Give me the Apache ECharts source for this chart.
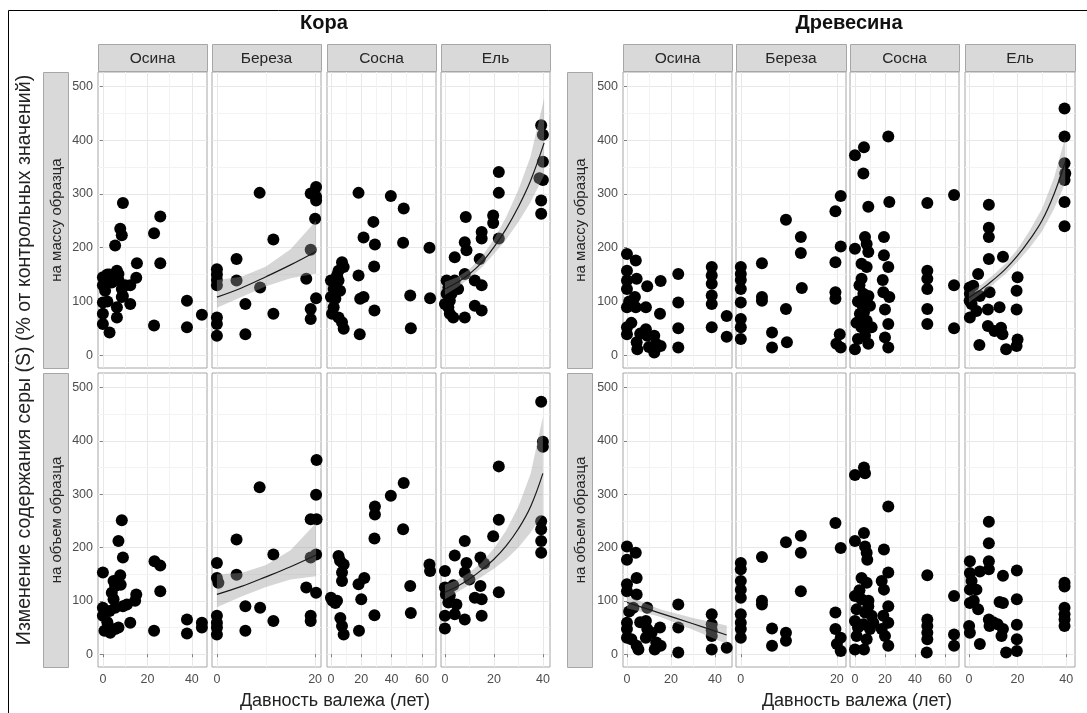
<!DOCTYPE html>
<html>
<head>
<meta charset="utf-8">
<script src="https://cdn.jsdelivr.net/npm/echarts@6/dist/echarts.min.js"></script>
<style>
html,body{margin:0;padding:0;background:#fff}
#chart{width:1087px;height:713px}
</style>
</head>
<body>
<div id="chart"></div>
<script>
// Facet labels and tick values
const materials = ['Кора', 'Древесина'];
const species = ['Осина', 'Береза', 'Сосна', 'Ель'];
const basisLabels = ['на массу образца', 'на объем образца'];
const yTicks = [0, 100, 200, 300, 400, 500];
const yMinorTicks = [50, 150, 250, 350, 450];
const xTicksBySpecies = [[0, 20, 40], [0, 20], [0, 20, 40, 60], [0, 20, 40]];
const xMinorBySpecies = [[10, 30], [10], [10, 30, 50], [10, 30]];
const xRangeBark = [[-2.2, 46.8], [-1, 21.2], [-2.6, 69.3], [-1.6, 42.9]];
const xRangeWood = [[-1.8, 47.7], [-1, 21.9], [-3.3, 69.3], [-1.6, 43.6]];
const yRange = [-24, 527];
const xTitle = 'Давность валежа (лет)';
const yTitle = 'Изменение содержания серы (S) (% от контрольных значений)';

// Bark, per sample mass: [years, % of control]
const barkMassAspen = [[0,145],[0,98],[0,77],[0,58],[1,140],[2,150],[3,42],[1,120],[0,130],[2,100],[4,135],[3,150],
  [5.5,204],[7,151],[7.8,235],[8.5,223],[9,283],[6.3,157],[5.5,145],[6.3,70],[6.3,89],[8.5,123],[10,130],[8.5,108],
  [12.3,95],[12.3,130],[15.3,171],[15,144],[23,227],[25.8,258],[25.8,171],[23,55],[37.8,101],[37.8,52],[44.5,75],[7,140],[9,110]];
const barkMassBirch = [[0,160],[0,150],[0,140],[0,130],[0,70],[0,58],[0,36],[4,179],[4,139],[5.8,95],[5.8,39],[8.7,302],
  [8.8,126],[11.5,215],[11.5,77],[18.2,142],[19.1,301],[19.1,86],[19.1,67],[19.1,196],[20,254],[20.2,313],[20.2,295],[20.2,106],[20.2,288]];
const barkMassPine = [[0,139],[0,108],[1.8,123],[0.7,77],[4,148],[5,157],[7.3,173],[8.4,164],[5,139],[6,120],[5,70],[7.3,61],
  [8.4,49],[1.8,89],[2.9,105],[18.2,302],[18.2,148],[19.3,105],[21.5,108],[19,39],[21.5,219],[28,248],[29,206],[28.5,165],
  [28.7,83],[39.5,296],[48,273],[47.6,209],[52.3,111],[52.7,50],[65,200],[65.4,106]];
const barkMassSpruce = [[0.7,139],[1.4,126],[0.7,114],[2,101],[1.4,89],[2,77],[3.4,70],[0,95],[2.7,114],[4,139],[5.4,123],
  [4,182],[8.1,70],[8.1,151],[8.5,257],[8.1,210],[8.8,195],[12.2,92],[15,83],[12.2,139],[14.2,179],[15,229],[15,217],[15,130],
  [19.7,260],[19.7,246],[22,341],[22,302],[22,217],[39.3,428],[40,410],[40,360],[40,326],[39.3,288],[39.3,263],[38.6,329]];

// Bark, per sample volume
const barkVolAspen = [[0,153],[0,87],[0,72],[0.7,44],[3.3,40],[4.8,137],[5.5,128],[4,115],[4.8,103],[5.5,87],[7,212],[8.5,251],
  [9,181],[7.8,148],[9,90],[10.8,93],[5.5,47],[7,50],[12.3,59],[15,112],[14.5,100],[23.2,174],[25.8,166],[25.8,118],[23,44],
  [37.8,65],[37.8,39],[44.5,59],[44.5,50],[3,81],[2,60],[8,130]];
const barkVolBirch = [[0,171],[0,143],[0.3,134],[0,72],[0,59],[0,50],[0,37],[4,215],[4,149],[5.8,90],[5.8,44],[8.7,313],
  [8.8,87],[11.5,187],[11.5,62],[18.2,125],[19.1,72],[19.1,62],[19.1,253],[20.3,253],[20.3,364],[20.2,299],[20.2,187],[19.1,181],[20.2,115]];
const barkVolPine = [[0,106],[2.9,96],[5,184],[8.4,168],[7.3,153],[7.3,137],[6.2,68],[7.3,53],[8.4,37],[18.2,131],[22,143],
  [20,103],[18.5,44],[29,277],[29,262],[28.7,217],[28.7,73],[39.5,297],[48,321],[47.6,234],[52.3,128],[52.7,77],[65,168],
  [65.4,156],[1,100],[4,100],[6,175]];
const barkVolSpruce = [[0,156],[0,125],[0.4,112],[1.4,97],[0,72],[0,48],[4,185],[3.4,129],[4.7,93],[4,75],[8.1,212],[8.8,171],
  [8.1,153],[8.1,65],[12.2,106],[14.5,181],[14.5,128],[15,103],[15,72],[19.7,221],[22,352],[22,252],[22,116],[39.3,473],
  [40,398],[40,389],[39.3,249],[39.3,234],[39.3,212],[39.3,190],[2,110],[10,140],[16,170]];

// Wood, per sample mass
const woodMassAspen = [[0,188],[0,157],[0,139],[0,123],[0,89],[0,52],[0,39],[4,176],[4.4,142],[3.6,108],[4,89],[4.4,24],
  [4.7,11],[9.2,128],[8.6,89],[8.6,48],[9.2,36],[12.4,36],[13.2,21],[12.4,5],[15.3,138],[15,77],[15.3,17],[23.3,151],[23.3,98],
  [23.3,50],[23.3,14],[38.5,164],[38.5,148],[38.5,133],[38.5,111],[38.5,95],[38.5,52],[45.3,73],[45.3,34],[1,100],[2,60],[6,40],[10,15]];
const woodMassBirch = [[0,164],[0,151],[0,123],[0,98],[0,67],[0,52],[0,30],[4.4,171],[4.4,108],[4.4,101],[6.5,42],[6.5,14],
  [9.4,252],[9.4,86],[9.6,24],[12.5,220],[12.5,190],[12.7,125],[19.7,268],[20.8,296],[20.8,202],[19.7,173],[19.7,117],
  [19.7,105],[20.6,39],[19.9,21],[20.8,14],[0,140]];
const woodMassPine = [[0,372],[6,387],[5.6,338],[8.9,276],[0,198],[6.7,220],[7.8,207],[8.9,192],[4.4,170],[7.8,164],[4.4,142],
  [5.6,114],[4.4,95],[10,92],[3.3,77],[7.8,64],[4.4,52],[11.1,52],[6.7,36],[8.9,21],[0,11],[2,100],[1,60],[3,130],[9,110],
  [22.2,407],[22.9,285],[19.3,220],[19.3,186],[22.2,164],[22.9,108],[18.5,140],[18.9,117],[22.2,58],[20,33],[22.2,14],
  [48.2,283],[48.2,157],[48.2,142],[48.2,123],[48.2,86],[48.2,58],[66,298],[66,130],[66,50],[2,30],[6,80],[20,85]];
const woodMassSpruce = [[39.3,459],[39.3,407],[39.3,357],[39.6,338],[39.3,326],[39.3,285],[39.3,240],[8.2,280],[8.2,237],
  [8.2,220],[8.2,179],[14,183],[3.8,151],[1.8,129],[0.4,114],[1.1,95],[3.1,82],[0.4,70],[4.5,110],[8.5,117],[7.8,85],[12.6,89],
  [7.8,54],[10.5,45],[13.2,51],[13.8,39],[20,145],[19.6,120],[19.6,85],[20,29],[19.6,17],[15.3,11],[4.3,19],[0.3,126],[0.3,101]];

// Wood, per sample volume
const woodVolAspen = [[0,202],[0,177],[4,190],[0,131],[0,118],[4.4,143],[0,59],[0,47],[0,31],[2,28],[4.4,112],[4.4,16],[5.2,9],
  [9.2,87],[8.6,62],[9.2,47],[8.6,31],[12.6,9],[13.3,22],[15,50],[15.3,16],[11.2,40],[23.3,93],[23.3,50],[23.3,3],[38.5,75],
  [38.5,56],[38.5,34],[38.5,9],[45.3,12],[2.9,87],[38.5,45],[1,80],[6,60]];
const woodVolBirch = [[0,171],[0,159],[0,137],[0,121],[0,106],[0,75],[0,59],[0,47],[0,31],[4.4,182],[4.4,100],[4.4,93],
  [6.5,48],[6.5,16],[9.4,210],[9.4,40],[9.4,25],[12.5,222],[12.5,190],[12.5,118],[19.7,246],[20.8,199],[19.7,78],[19.7,47],
  [20.8,31],[20,19],[20.8,6]];
const woodVolPine = [[0,336],[6,350],[6.7,339],[0,212],[6,227],[6.7,202],[7.8,190],[8.2,177],[4.4,143],[7.8,134],[0,109],
  [4.4,103],[8.9,90],[1.1,84],[6.7,78],[11.1,72],[0,62],[5.6,56],[10,47],[1.1,34],[7.8,28],[0,9],[6,9],[12.2,59],[22.2,277],
  [19.3,196],[22.2,153],[17.8,137],[19.3,121],[22.2,90],[18.9,72],[22.2,59],[20,34],[22.2,16],[17.8,47],[48.2,148],[48.2,65],
  [48.2,53],[48.2,40],[48.2,28],[47.8,3],[66,109],[66,37],[66,16],[3,120],[9,100],[2,50]];
const woodVolSpruce = [[8.2,248],[8.2,208],[8.2,174],[8.2,159],[0.4,174],[0.4,152],[1.1,137],[4.5,155],[0.4,121],[3.1,121],
  [0.4,96],[3.8,84],[0.1,53],[0.4,40],[4.5,19],[14,147],[12.6,98],[14,96],[8.2,65],[8.5,53],[11.8,56],[14,47],[13.4,34],
  [15.3,3],[19.7,157],[19.7,103],[19.7,55],[19.7,28],[19.7,6],[39.3,134],[39.3,127],[39.3,87],[39.3,75],[39.3,65],[39.3,53],[10,60],[2,100]];

// Fitted trends with confidence bands: x, fitted value, lower, upper
const barkMassBirchFit = { x: [0, 5, 10, 15, 20.2], y: [108, 125, 146, 168, 193], lo: [88, 108, 128, 143, 152], hi: [140, 146, 165, 197, 250] };
const barkMassSpruceFit = { x: [0, 5, 10, 15, 20, 25, 30, 35, 40.5], y: [123, 135, 151, 172, 201, 235, 276, 325, 395],
  lo: [112, 126, 143, 163, 188, 215, 248, 285, 335], hi: [136, 145, 160, 183, 215, 257, 308, 370, 478] };
const barkVolBirchFit = { x: [0, 5, 10, 15, 20.2], y: [112, 127, 145, 164, 186], lo: [88, 108, 126, 140, 146], hi: [150, 152, 167, 195, 246] };
const barkVolSpruceFit = { x: [0, 5, 10, 15, 20, 25, 30, 35, 40], y: [116, 127, 141, 158, 178, 203, 235, 277, 339],
  lo: [103, 116, 130, 145, 160, 178, 200, 228, 262], hi: [130, 139, 153, 172, 198, 232, 277, 338, 445] };
const woodMassSpruceFit = { x: [0, 5, 10, 15, 20, 25, 30, 35, 39.6], y: [107, 122, 140, 160, 185, 215, 250, 300, 360],
  lo: [98, 114, 132, 151, 174, 200, 230, 272, 320], hi: [117, 131, 149, 170, 197, 232, 272, 330, 405] };
const woodVolAspenFit = { x: [0, 15, 30, 45.3], y: [97, 77, 57, 36], lo: [86, 70, 46, 19], hi: [109, 84, 68, 54] };

const pointSets = [
  [[barkMassAspen, barkMassBirch, barkMassPine, barkMassSpruce], [barkVolAspen, barkVolBirch, barkVolPine, barkVolSpruce]],
  [[woodMassAspen, woodMassBirch, woodMassPine, woodMassSpruce], [woodVolAspen, woodVolBirch, woodVolPine, woodVolSpruce]]
];
const fitSets = [
  { m: 0, r: 0, c: 1, fit: barkMassBirchFit },
  { m: 0, r: 0, c: 3, fit: barkMassSpruceFit },
  { m: 0, r: 1, c: 1, fit: barkVolBirchFit },
  { m: 0, r: 1, c: 3, fit: barkVolSpruceFit },
  { m: 1, r: 0, c: 3, fit: woodMassSpruceFit },
  { m: 1, r: 1, c: 0, fit: woodVolAspenFit }
];

// ---- layout ----
const FONT = "'Liberation Sans', Arial, sans-serif";
const panelLeft = [[98, 212, 327, 441], [623, 736, 850, 965]];
const panelWidth = [[109, 109, 109, 109], [109, 110, 109, 110]];
const panelTop = [72, 373];
const panelHeight = [296, 294];
const rowStripLeft = [43, 567];
const stripWidth = 25;
const colStripTop = 44;
const colStripHeight = 27;
const splitNumbers = [[5, 2, 7, 4], [5, 2, 7, 4]];
const xRanges = [xRangeBark, xRangeWood];

const grids = [], xAxes = [], yAxes = [], series = [];
const gridIndex = {};

materials.forEach((mat, m) => {
  for (let r = 0; r < 2; r++) {
    for (let c = 0; c < 4; c++) {
      const gi = grids.length;
      gridIndex[m + '-' + r + '-' + c] = gi;
      grids.push({
        left: panelLeft[m][c], top: panelTop[r], width: panelWidth[m][c], height: panelHeight[r],
        show: true, backgroundColor: '#ffffff', borderColor: '#a6a6a6', borderWidth: 1
      });
      const ticksX = xTicksBySpecies[c];
      xAxes.push({
        gridIndex: gi, type: 'value', min: xRanges[m][c][0], max: xRanges[m][c][1],
        splitNumber: splitNumbers[m][c],
        axisLine: { show: false },
        axisTick: { show: r === 1, customValues: ticksX, length: 3, lineStyle: { color: '#7f7f7f' } },
        axisLabel: {
          show: r === 1, customValues: ticksX, color: '#4d4d4d', fontSize: 12.5, fontFamily: FONT, margin: 6,
          formatter: v => (ticksX.indexOf(Math.round(v * 1000) / 1000) >= 0 ? String(v) : '')
        },
        splitLine: { show: true, lineStyle: { color: '#e8e8e8', width: 1 } }
      });
      yAxes.push({
        gridIndex: gi, type: 'value', min: yRange[0], max: yRange[1], splitNumber: 11,
        axisLine: { show: false },
        axisTick: { show: c === 0, customValues: yTicks, length: 3, lineStyle: { color: '#7f7f7f' } },
        axisLabel: {
          show: c === 0, customValues: yTicks, color: '#4d4d4d', fontSize: 12.5, fontFamily: FONT, margin: 5,
          formatter: v => (yTicks.indexOf(Math.round(v * 1000) / 1000) >= 0 ? String(v) : '')
        },
        splitLine: { show: true, lineStyle: { color: '#e8e8e8', width: 1 } }
      });
      // minor grid lines, kept beneath the points
      series.push({
        type: 'line', xAxisIndex: gi, yAxisIndex: gi, data: [], silent: true, z: 1,
        markLine: {
          z: 1, silent: true, symbol: ['none', 'none'], label: { show: false }, animation: false,
          emphasis: { disabled: true },
          lineStyle: { color: '#f3f3f3', width: 1, type: 'solid' },
          data: xMinorBySpecies[c].map(v => ({ xAxis: v })).concat(yMinorTicks.map(v => ({ yAxis: v })))
        }
      });
      series.push({
        type: 'scatter', xAxisIndex: gi, yAxisIndex: gi, data: pointSets[m][r][c],
        symbol: 'circle', symbolSize: 12, itemStyle: { color: '#000000', opacity: 1 },
        silent: true, z: 10, clip: true
      });
    }
  }
});

// confidence bands and fitted curves
fitSets.forEach(f => {
  const gi = gridIndex[f.m + '-' + f.r + '-' + f.c];
  const d = f.fit;
  series.push({
    type: 'custom', xAxisIndex: gi, yAxisIndex: gi, silent: true, z: 11,
    data: d.x.map((x, i) => [x, d.lo[i], d.hi[i]]),
    encode: { x: 0, y: [1, 2] },
    renderItem: (params, api) => {
      if (params.dataIndex !== 0) return null;
      const upper = d.x.map((x, i) => api.coord([x, d.hi[i]]));
      const lower = d.x.map((x, i) => api.coord([x, d.lo[i]])).reverse();
      return {
        type: 'polygon',
        shape: { points: upper.concat(lower) },
        style: { fill: 'rgba(153,153,153,0.4)', stroke: null }
      };
    }
  });
  series.push({
    type: 'line', xAxisIndex: gi, yAxisIndex: gi, silent: true, z: 12,
    data: d.x.map((x, i) => [x, d.y[i]]),
    smooth: 0.4, showSymbol: false, symbol: 'none',
    lineStyle: { color: '#1a1a1a', width: 1.2 }
  });
});

// ---- frame, titles, strips, axis titles ----
const graphics = [];
graphics.push({
  type: 'rect', silent: true, z: 0,
  shape: { x: 8.5, y: 10.5, width: 1200, height: 800 },
  style: { fill: null, stroke: '#000000', lineWidth: 1 }
});
materials.forEach((mat, m) => {
  const left = panelLeft[m][0];
  const right = panelLeft[m][3] + panelWidth[m][3];
  graphics.push({
    type: 'text', silent: true, x: (left + right) / 2, y: 23,
    style: { text: mat, font: 'bold 20px ' + FONT, fill: '#111111', align: 'center', verticalAlign: 'middle' }
  });
  for (let c = 0; c < 4; c++) {
    graphics.push({
      type: 'rect', silent: true,
      shape: { x: panelLeft[m][c] + 0.5, y: colStripTop + 0.5, width: panelWidth[m][c], height: colStripHeight },
      style: { fill: '#d9d9d9', stroke: '#a6a6a6', lineWidth: 1 }
    });
    graphics.push({
      type: 'text', silent: true, x: panelLeft[m][c] + panelWidth[m][c] / 2, y: colStripTop + colStripHeight / 2 + 1,
      style: { text: species[c], font: '15.5px ' + FONT, fill: '#262626', align: 'center', verticalAlign: 'middle' }
    });
  }
  for (let r = 0; r < 2; r++) {
    graphics.push({
      type: 'rect', silent: true,
      shape: { x: rowStripLeft[m] + 0.5, y: panelTop[r] + 0.5, width: stripWidth, height: panelHeight[r] },
      style: { fill: '#d9d9d9', stroke: '#a6a6a6', lineWidth: 1 }
    });
    graphics.push({
      type: 'text', silent: true, x: rowStripLeft[m] + stripWidth / 2 + 1, y: panelTop[r] + panelHeight[r] / 2,
      rotation: Math.PI / 2,
      style: { text: basisLabels[r], font: '15px ' + FONT, fill: '#262626', align: 'center', verticalAlign: 'middle' }
    });
  }
});
graphics.push({
  type: 'text', silent: true, x: 335, y: 701,
  style: { text: xTitle, font: '18px ' + FONT, fill: '#222222', align: 'center', verticalAlign: 'middle' }
});
graphics.push({
  type: 'text', silent: true, x: 857, y: 701,
  style: { text: xTitle, font: '18px ' + FONT, fill: '#222222', align: 'center', verticalAlign: 'middle' }
});
graphics.push({
  type: 'text', silent: true, x: 25, y: 360, rotation: Math.PI / 2,
  style: { text: yTitle, font: '19.5px ' + FONT, fill: '#222222', align: 'center', verticalAlign: 'middle' }
});

const chart = echarts.init(document.getElementById('chart'), null, { renderer: 'canvas' });
chart.setOption({
  backgroundColor: '#ffffff',
  animation: false,
  grid: grids,
  xAxis: xAxes,
  yAxis: yAxes,
  series: series,
  graphic: { elements: graphics }
});
</script>
</body>
</html>
